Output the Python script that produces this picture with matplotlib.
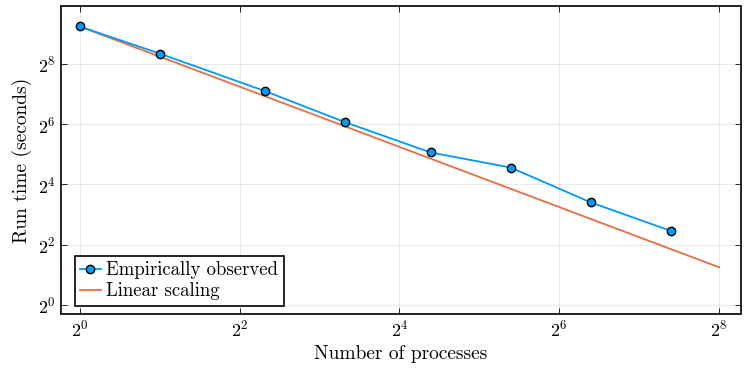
import matplotlib
matplotlib.use("Agg")
import matplotlib.pyplot as plt
import numpy as np
from matplotlib.ticker import FixedLocator, LogFormatterMathtext, NullLocator

plt.rcParams['font.family'] = ['cmr10', 'DejaVu Serif']
plt.rcParams['mathtext.fontset'] = 'cm'
plt.rcParams['axes.formatter.use_mathtext'] = True

# observed run times (seconds) vs number of processes
procs = [1, 2, 5, 10, 21, 42, 84, 168]
run_time = [608, 326, 137, 67, 33.4, 23.6, 10.6, 5.5]

# ideal linear scaling from the single-process time
lin_procs = [1, 256]
lin_time = [run_time[0] / p for p in lin_procs]

fig, ax = plt.subplots(figsize=(7.47, 3.71), dpi=100)

ax.plot(procs, run_time, color='#009AFA', lw=1.3, marker='o', ms=6,
        mfc='#009AFA', mec='black', mew=1.0, label='Empirically observed', zorder=3)
ax.plot(lin_procs, lin_time, color='#E36F47', lw=1.3, label='Linear scaling', zorder=2)

ax.set_xscale('log', base=2)
ax.set_yscale('log', base=2)
ax.set_xlim(2 ** -0.24, 2 ** 8.27)
ax.set_ylim(2 ** -0.3, 2 ** 9.93)

ax.xaxis.set_major_locator(FixedLocator([1, 4, 16, 64, 256]))
ax.yaxis.set_major_locator(FixedLocator([1, 4, 16, 64, 256]))
ax.xaxis.set_major_formatter(LogFormatterMathtext(base=2))
ax.yaxis.set_major_formatter(LogFormatterMathtext(base=2))
ax.xaxis.set_minor_locator(NullLocator())
ax.yaxis.set_minor_locator(NullLocator())

ax.grid(True, color='#000000', alpha=0.1, lw=0.6)
ax.tick_params(direction='in', length=4, width=0.6, labelsize=13, top=True, right=True)
for s in ax.spines.values():
    s.set_linewidth(1.4)
    s.set_color('#222222')

ax.set_xlabel('Number of processes', fontsize=14)
ax.set_ylabel('Run time (seconds)', fontsize=14)

leg = ax.legend(loc='lower left', bbox_to_anchor=(0.0206, 0.026), fontsize=13.5,
                frameon=True, fancybox=False, edgecolor='black', framealpha=1,
                borderpad=0.3, labelspacing=0.15, handlelength=1.1,
                handletextpad=0.3, borderaxespad=0)
leg.get_frame().set_linewidth(1.2)

fig.subplots_adjust(left=0.081, right=0.9915, top=0.984, bottom=0.154)
fig.savefig('out.png', dpi=100)
